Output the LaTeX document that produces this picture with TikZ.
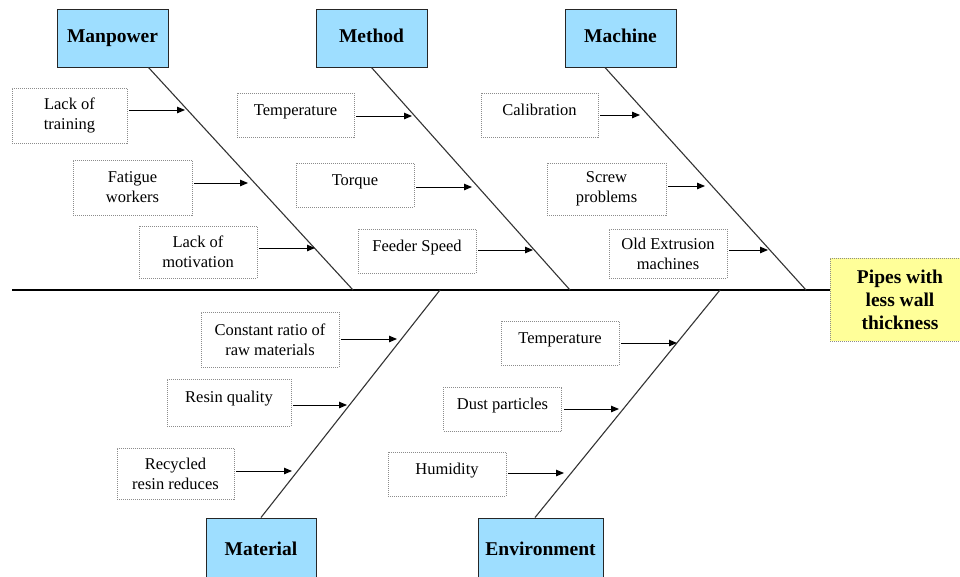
\documentclass[tikz,border=0pt]{standalone}
\usepackage{fontspec}
\setmainfont{Liberation Serif}
\usetikzlibrary{arrows.meta,calc}
\definecolor{catblue}{RGB}{158,222,255}
\definecolor{effyellow}{RGB}{255,255,153}
\begin{document}
\begin{tikzpicture}[x=1pt,y=-1pt,
  catbox/.style={draw=black!85, line width=1pt, fill=catblue, inner sep=0pt,
    minimum height=58pt, text height=13.5pt, text depth=4pt,
    font=\fontsize{19.5}{23}\selectfont\bfseries},
  botcat/.style={catbox, minimum height=82pt, text height=14pt, text depth=22pt},
  effbox/.style={draw=black!45, dash pattern=on 1pt off 1pt, line width=0.8pt,
    fill=effyellow, inner sep=0pt, align=center,
    font=\fontsize{19.5}{23}\selectfont\bfseries},
  cause/.style={draw=black!45, dash pattern=on 1pt off 1pt, line width=0.8pt,
    inner sep=0pt, align=center, font=\fontsize{16.5}{20}\selectfont},
  oneline/.style={text height=12pt, text depth=12pt},
  bone/.style={draw=black!80, line width=1.1pt},
  spine/.style={draw=black, line width=1.5pt},
  arr/.style={-{Triangle[length=8pt,width=6.5pt]}, line width=1pt, shorten <=2pt}
]
\useasboundingbox (0,0) rectangle (960,576);
\begin{scope}
\clip (0,0) rectangle (960,576);

% effect
\node[effbox, minimum width=140pt, minimum height=83pt] (eff) at (900,299.5) {Pipes with\\less wall\\thickness};

% categories
\node[catbox, minimum width=111pt] (mp) at (112.5,38) {Manpower};
\node[catbox, minimum width=111pt] (mt) at (371.5,38) {Method};
\node[catbox, minimum width=111pt] (mc) at (620.5,38) {Machine};
\node[botcat, minimum width=110pt] (mat) at (261,559) {Material};
\node[botcat, minimum width=125pt] (env) at (540.5,559) {Environment};

% spine points
\coordinate (s0) at (12,290);
\coordinate (b1) at (353,290);
\coordinate (b2) at (570,290);
\coordinate (b3) at (806,290);
\coordinate (b4) at (440,290);
\coordinate (b5) at (720,290);

\draw[spine] (s0) -- (s0 -| eff.west);
\draw[bone] ([xshift=-20pt]mp.south east) -- (b1);
\draw[bone] (mt.south) -- (b2);
\draw[bone] ([xshift=-15.5pt]mc.south) -- (b3);
\draw[bone] (mat.north) -- (b4);
\draw[bone] ([xshift=-5.5pt]env.north) -- (b5);

% causes: Manpower
\node[cause, minimum width=115pt, minimum height=55pt] (c11) at (69.5,115.5) {Lack of\\training};
\node[cause, minimum width=119pt, minimum height=55pt] (c12) at (132.5,187.5) {Fatigue\\workers};
\node[cause, minimum width=118pt, minimum height=52pt] (c13) at (198,252) {Lack of\\motivation};
% Method
\node[cause, oneline, minimum width=117pt, minimum height=44pt] (c21) at (295.5,115) {Temperature};
\node[cause, oneline, minimum width=118pt, minimum height=44pt] (c22) at (355,185) {Torque};
\node[cause, oneline, minimum width=118pt, minimum height=44pt] (c23) at (417,251) {Feeder Speed};
% Machine
\node[cause, oneline, minimum width=117pt, minimum height=44pt] (c31) at (539.5,115) {Calibration};
\node[cause, minimum width=119pt, minimum height=52pt] (c32) at (606.5,189) {Screw\\problems};
\node[cause, minimum width=118pt, minimum height=49pt] (c33) at (668,253.5) {Old Extrusion\\machines};
% Material
\node[cause, minimum width=138pt, minimum height=55pt] (c41) at (270,339.5) {Constant ratio of\\raw materials};
\node[cause, oneline, minimum width=124pt, minimum height=47pt] (c42) at (229,402.5) {Resin quality};
\node[cause, minimum width=117pt, minimum height=51pt] (c43) at (175.5,473.5) {Recycled\\resin reduces};
% Environment
\node[cause, oneline, minimum width=118pt, minimum height=44pt] (c51) at (560,343) {Temperature};
\node[cause, oneline, minimum width=118pt, minimum height=44pt] (c52) at (502.5,409) {Dust particles};
\node[cause, oneline, minimum width=118pt, minimum height=44pt] (c53) at (447,474) {Humidity};

% arrow tips
\coordinate (t11) at (185,110);
\coordinate (t12) at (248,183);
\coordinate (t13) at (315,248);
\coordinate (t21) at (412,116);
\coordinate (t22) at (472,187);
\coordinate (t23) at (533,250);
\coordinate (t31) at (640,115);
\coordinate (t32) at (705,186);
\coordinate (t33) at (768,250);
\coordinate (t41) at (397,339);
\coordinate (t42) at (347,405);
\coordinate (t43) at (292,471);
\coordinate (t51) at (677,343);
\coordinate (t52) at (619,409);
\coordinate (t53) at (564,473);

\foreach \i in {11,12,13,21,22,23,31,32,33,41,42,43,51,52,53}{
  \draw[arr] (c\i.east |- t\i) -- (t\i);
}
\end{scope}
\end{tikzpicture}
\end{document}
